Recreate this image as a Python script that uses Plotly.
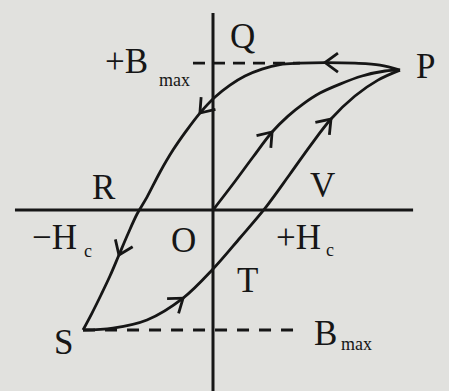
import math
import plotly.graph_objects as go

# Hysteresis loop (B–H curve), normalised so that H = 1 at the tip P and B = 1 at +Bmax.
# Descending branch P -> Q -> R -> S
upper_H = [1.000, 0.893, 0.759, 0.599, 0.465, 0.358, 0.262, 0.171, 0.091, 0.011, -0.070,
           -0.144, -0.214, -0.283, -0.353, -0.406, -0.455, -0.503, -0.551, -0.599, -0.647, -0.695]
upper_B = [0.952, 0.986, 0.999, 1.003, 0.999, 0.990, 0.959, 0.912, 0.850, 0.769, 0.660,
           0.537, 0.408, 0.259, 0.088, -0.027, -0.163, -0.306, -0.449, -0.578, -0.701, -0.816]
# Ascending branch S -> T -> V -> P
lower_H = [-0.695, -0.535, -0.353, -0.160, 0.000, 0.144, 0.283, 0.412, 0.519, 0.631, 0.759, 0.882, 1.000]
lower_B = [-0.816, -0.803, -0.748, -0.599, -0.401, -0.190, 0.020, 0.245, 0.435, 0.619, 0.776, 0.884, 0.952]
# Initial magnetisation curve O -> P
initial_H = [0.000, 0.107, 0.214, 0.316, 0.401, 0.481, 0.572, 0.679, 0.797, 0.920, 1.000]
initial_B = [0.000, 0.177, 0.361, 0.531, 0.639, 0.721, 0.796, 0.857, 0.912, 0.946, 0.952]

# Points along each curve where a direction arrow is drawn
upper_arrows = [3, 10, 17]
lower_arrows = [3, 9]
initial_arrows = [3]

B_MAX_POS = 1.000
B_MAX_NEG = -0.816

W, HGT = 449, 391
X_RANGE = [-1.139, 1.262]
Y_RANGE = [-1.231, 1.429]
INK = "#161616"
PAPER = "#e1e1de"
LW = 2.8
FONT = "Liberation Serif"
BIG, SMALL = 35, 18

kx = W / (X_RANGE[1] - X_RANGE[0])
ky = HGT / (Y_RANGE[1] - Y_RANGE[0])

fig = go.Figure()


def add_line(xs, ys, dash=None, shape="linear", width=LW):
    fig.add_trace(go.Scatter(
        x=xs, y=ys, mode="lines", hoverinfo="skip", showlegend=False,
        line=dict(color=INK, width=width, dash=dash, shape=shape),
    ))


def add_chevron(xs, ys, i, length=16, half_angle=36):
    """Open arrowhead at point i, pointing along the direction of travel."""
    dx = (xs[i + 1] - xs[i - 1]) * kx
    dy = (ys[i + 1] - ys[i - 1]) * ky
    n = math.hypot(dx, dy)
    dx, dy = dx / n, dy / n
    a = math.radians(half_angle)
    arm_x, arm_y = [], []
    for s in (1, -1):
        c, sn = math.cos(s * a), math.sin(s * a)
        rx, ry = dx * c - dy * sn, dx * sn + dy * c
        arm_x.append(xs[i] - rx * length / kx)
        arm_y.append(ys[i] - ry * length / ky)
    add_line([arm_x[0], xs[i], arm_x[1]], [arm_y[0], ys[i], arm_y[1]])


# Axes
add_line([0, 0], [Y_RANGE[0], 1.340], width=3)
add_line([-1.059, 1.070], [0, 0], width=3)

# Dashed saturation levels
add_line([-0.107, 0.465], [B_MAX_POS, B_MAX_POS], dash="12px,8px")
add_line([-0.695, 0.465], [B_MAX_NEG, B_MAX_NEG], dash="12px,10px")

# Curves
for hs, bs, arrows in ((upper_H, upper_B, upper_arrows),
                       (lower_H, lower_B, lower_arrows),
                       (initial_H, initial_B, initial_arrows)):
    add_line(hs, bs, shape="spline")
    for i in arrows:
        add_chevron(hs, bs, i)

# Labels: (text, H, B, size)
labels = [
    ("Q", 0.160, 1.184, BIG),
    ("P", 1.134, 0.980, BIG),
    ("+B", -0.460, 1.014, BIG),
    ("max", -0.208, 0.884, SMALL),
    ("R", -0.583, 0.156, BIG),
    ("V", 0.583, 0.170, BIG),
    ("\u2212H", -0.850, -0.184, BIG),
    ("c", -0.670, -0.279, SMALL),
    ("O", -0.160, -0.204, BIG),
    ("+H", 0.455, -0.184, BIG),
    ("c", 0.627, -0.272, SMALL),
    ("T", 0.187, -0.476, BIG),
    ("S", -0.802, -0.898, BIG),
    ("B", 0.599, -0.837, BIG),
    ("max", 0.765, -0.912, SMALL),
]
for text, hx, by, size in labels:
    fig.add_annotation(
        x=hx, y=by, text=text, showarrow=False,
        xanchor="center", yanchor="middle",
        font=dict(family=FONT, size=size, color=INK),
    )

fig.update_layout(
    width=W, height=HGT,
    margin=dict(l=0, r=0, t=0, b=0),
    paper_bgcolor=PAPER, plot_bgcolor=PAPER,
    xaxis=dict(range=X_RANGE, visible=False, fixedrange=True),
    yaxis=dict(range=Y_RANGE, visible=False, fixedrange=True),
    showlegend=False,
)

fig.write_html("out.html", config={"displayModeBar": False})
